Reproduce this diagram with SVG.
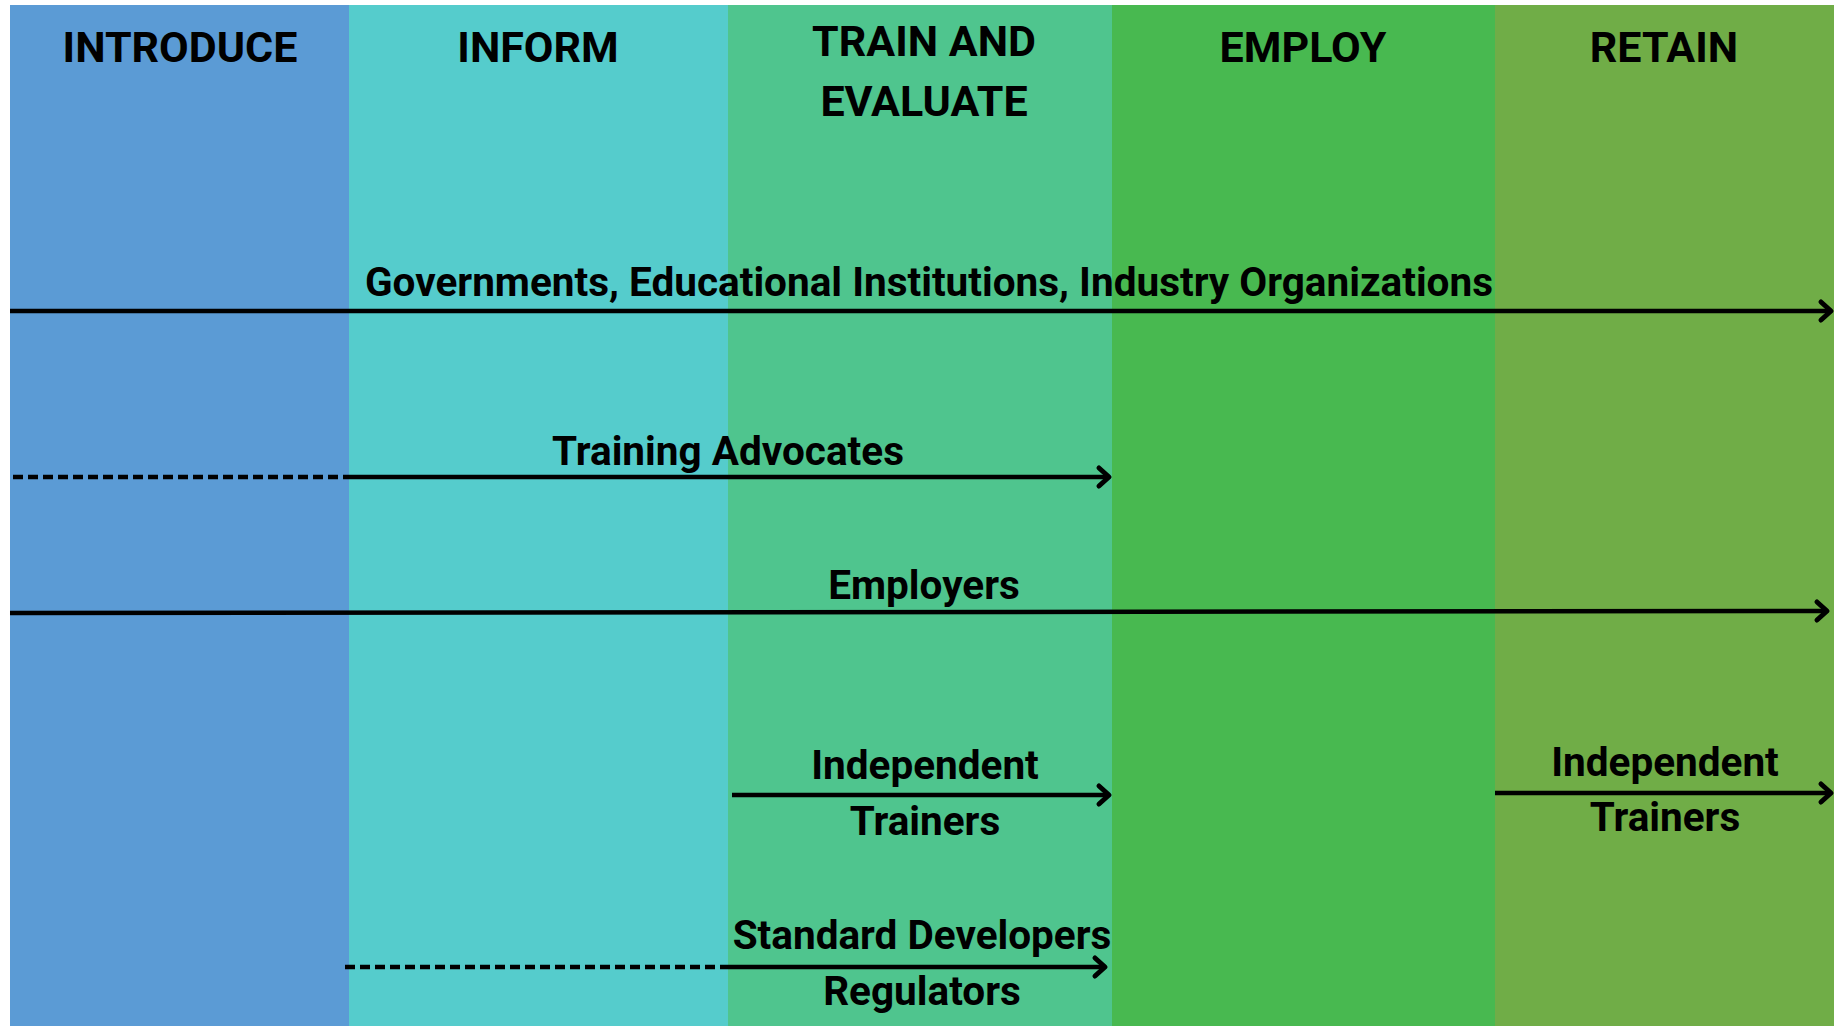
<svg xmlns="http://www.w3.org/2000/svg" width="1843" height="1026" viewBox="0 0 1843 1026">
  <style>
    .hdr { font-family: Roboto, "Liberation Sans", sans-serif; font-weight: 700; font-size: 43px; fill: #000; text-anchor: middle; }
    .lbl { font-family: Roboto, "Liberation Sans", sans-serif; font-weight: 700; font-size: 40.5px; fill: #000; text-anchor: middle; }
    .flow { stroke: #000; stroke-width: 4.5; fill: none; }
    .dash { stroke: #000; stroke-width: 4.5; fill: none; stroke-dasharray: 10 5; }
  </style>
  <defs>
    <marker id="chev" markerUnits="userSpaceOnUse" markerWidth="30" markerHeight="30" refX="0" refY="0" viewBox="-14 -15 18 30" orient="auto">
      <path d="M-10,-9 L0,0 L-10,9" fill="none" stroke="#000" stroke-width="5" stroke-linecap="round" stroke-linejoin="round"/>
    </marker>
  </defs>

  <rect x="0" y="0" width="1843" height="1026" fill="#fff"/>

  <!-- phase columns -->
  <g id="col-introduce">
    <rect x="10" y="5" width="339" height="1021" fill="#5B9BD5"/>
    <text class="hdr" x="180" y="62">INTRODUCE</text>
  </g>
  <g id="col-inform">
    <rect x="349" y="5" width="379" height="1021" fill="#55CCCC"/>
    <text class="hdr" x="538" y="62">INFORM</text>
  </g>
  <g id="col-train">
    <rect x="728" y="5" width="384" height="1021" fill="#4FC58E"/>
    <text class="hdr" x="924" y="56">TRAIN AND</text>
    <text class="hdr" x="924" y="116">EVALUATE</text>
  </g>
  <g id="col-employ">
    <rect x="1112" y="5" width="383" height="1021" fill="#48B950"/>
    <text class="hdr" x="1303" y="62">EMPLOY</text>
  </g>
  <g id="col-retain">
    <rect x="1495" y="5" width="339" height="1021" fill="#70AD47"/>
    <text class="hdr" x="1664" y="62">RETAIN</text>
  </g>

  <!-- connectors -->
  <g id="connectors">
    <line class="flow" x1="10" y1="311" x2="1831" y2="311" marker-end="url(#chev)"/>
    <line class="dash" x1="13" y1="477" x2="343" y2="477"/>
    <line class="flow" x1="343" y1="477" x2="1109" y2="477" marker-end="url(#chev)"/>
    <line class="flow" x1="10" y1="613" x2="1827" y2="611" marker-end="url(#chev)"/>
    <line class="flow" x1="732" y1="795" x2="1109" y2="795" marker-end="url(#chev)"/>
    <line class="flow" x1="1495" y1="793" x2="1831" y2="793" marker-end="url(#chev)"/>
    <line class="dash" x1="345" y1="967" x2="725" y2="967"/>
    <line class="flow" x1="725" y1="967" x2="1105" y2="967" marker-end="url(#chev)"/>
  </g>

  <!-- actor labels -->
  <g id="actor-govts">
    <text class="lbl" x="929" y="296">Governments, Educational Institutions, Industry Organizations</text>
  </g>
  <g id="actor-advocates">
    <text class="lbl" x="728" y="465">Training Advocates</text>
  </g>
  <g id="actor-employers">
    <text class="lbl" x="924" y="599">Employers</text>
  </g>
  <g id="actor-trainers-train">
    <text class="lbl" x="925" y="779">Independent</text>
    <text class="lbl" x="925" y="835">Trainers</text>
  </g>
  <g id="actor-trainers-retain">
    <text class="lbl" x="1665" y="776">Independent</text>
    <text class="lbl" x="1665" y="831">Trainers</text>
  </g>
  <g id="actor-standards">
    <text class="lbl" x="922" y="949">Standard Developers</text>
    <text class="lbl" x="922" y="1005">Regulators</text>
  </g>
</svg>
